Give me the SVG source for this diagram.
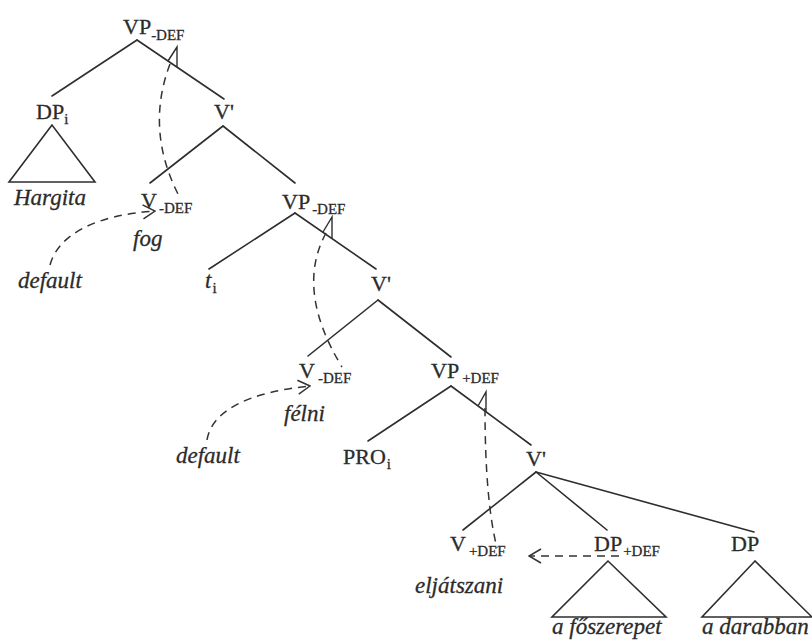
<svg xmlns="http://www.w3.org/2000/svg" width="812" height="644" viewBox="0 0 812 644">
<defs>
<style>
text{font-family:'Liberation Serif','DejaVu Serif','Times New Roman',serif;fill:#2b2b2b;stroke:#2b2b2b;stroke-width:0.3}
.lbl{font-size:22px}
.sub{font-size:15px}
.it{font-style:italic;font-size:23px}
.br{stroke:#2e2e2e;stroke-width:1.6;fill:none;stroke-linecap:round}
.dash{stroke:#333;stroke-width:1.5;fill:none;stroke-dasharray:8 6}
.tri{stroke:#2e2e2e;stroke-width:1.4;fill:none;stroke-linejoin:miter}
</style>
<marker id="ah" viewBox="0 0 14 16" refX="13" refY="8" markerWidth="14" markerHeight="16" markerUnits="userSpaceOnUse" orient="auto">
<path d="M1,1 L13,8 L1,15" fill="none" stroke="#333" stroke-width="1.5"/>
</marker>
</defs>
<rect width="812" height="644" fill="#ffffff"/>

<g id="connectors">
<line class="br" x1="137" y1="40" x2="52" y2="96"/>
<line class="br" x1="137" y1="40" x2="224" y2="99"/>
<line class="br" x1="223" y1="126" x2="150" y2="183"/>
<line class="br" x1="223" y1="126" x2="295" y2="183"/>
<line class="br" x1="295" y1="213" x2="209" y2="269"/>
<line class="br" x1="295" y1="213" x2="376" y2="269"/>
<line class="br" x1="378" y1="300" x2="308" y2="356"/>
<line class="br" x1="378" y1="300" x2="451" y2="357"/>
<line class="br" x1="451" y1="386" x2="368" y2="441"/>
<line class="br" x1="451" y1="386" x2="531" y2="445"/>
<line class="br" x1="536" y1="472" x2="463" y2="530"/>
<line class="br" x1="536" y1="472" x2="607" y2="530"/>
<line class="br" x1="536" y1="472" x2="754" y2="532"/>
<path class="tri" d="M168,61 L177,47 L177,67"/>
<path class="tri" d="M323,232 L332,217 L332,238"/>
<path class="tri" d="M478,406 L486,392 L486,412"/>
<path class="dash" d="M170,64 Q145,130 179,196"/>
<path class="dash" d="M326,233 Q295,290 342,367"/>
<path class="dash" d="M485,408 Q485,500 497,548"/>
<path class="dash" d="M50,265 C58,235 95,215 155,211" marker-end="url(#ah)"/>
<path class="dash" d="M207,440 C212,410 250,392 310,386" marker-end="url(#ah)"/>
<path class="dash" d="M619,556 L529,556" marker-end="url(#ah)"/>
</g>

<g id="vp-top"><text class="lbl" x="123" y="34">VP<tspan class="sub" dy="6">-DEF</tspan></text></g>
<g id="dp-i">
<text class="lbl" x="36" y="119">DP<tspan class="sub" dy="5">i</tspan></text>
<path class="br" d="M52,125 L9,182 L95,182 Z"/>
<text class="it" x="14" y="205">Hargita</text>
</g>
<g id="vbar-1"><text class="lbl" x="214" y="119">V'</text></g>
<g id="v-fog">
<text class="lbl" x="141" y="208">V<tspan class="sub" dx="2" dy="5">-DEF</tspan></text>
<text class="it" x="133" y="246">fog</text>
</g>
<g id="default-1"><text class="it" x="18" y="288">default</text></g>
<g id="vp-2"><text class="lbl" x="282" y="209">VP<tspan class="sub" dx="2" dy="5">-DEF</tspan></text></g>
<g id="t-i"><text class="it" x="205" y="288">t<tspan class="sub" font-style="normal" dx="1" dy="5">i</tspan></text></g>
<g id="vbar-2"><text class="lbl" x="371" y="291">V'</text></g>
<g id="v-felni">
<text class="lbl" x="299" y="378">V<tspan class="sub" dx="3" dy="5">-DEF</tspan></text>
<text class="it" x="284" y="421">félni</text>
</g>
<g id="default-2"><text class="it" x="176" y="463">default</text></g>
<g id="vp-3"><text class="lbl" x="431" y="378">VP<tspan class="sub" dx="3" dy="5">+DEF</tspan></text></g>
<g id="pro-i"><text class="lbl" x="343" y="464">PRO<tspan class="sub" dx="1" dy="5">i</tspan></text></g>
<g id="vbar-3"><text class="lbl" x="526" y="466">V'</text></g>
<g id="v-eljatszani">
<text class="lbl" x="450" y="551">V<tspan class="sub" dx="3" dy="5">+DEF</tspan></text>
<text class="it" x="415" y="593">eljátszani</text>
</g>
<g id="dp-def">
<text class="lbl" x="594" y="551">DP<tspan class="sub" dx="1" dy="5">+DEF</tspan></text>
<path class="br" d="M608,561 L552,617 L666,617 Z"/>
<text class="it" x="552" y="634">a főszerepet</text>
</g>
<g id="dp">
<text class="lbl" x="731" y="551">DP</text>
<path class="br" d="M755,561 L702,617 L812,617 Z"/>
<text class="it" x="702" y="634">a darabban</text>
</g>
</svg>
